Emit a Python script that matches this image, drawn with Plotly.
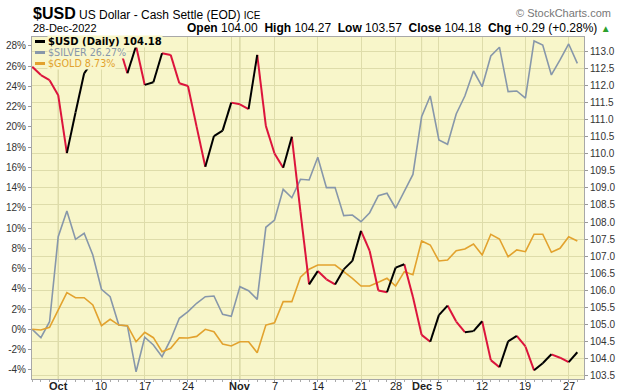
import plotly.graph_objects as go

# ---------------- data ----------------
dates = [
    "2022-09-28", "2022-09-29", "2022-09-30",
    "2022-10-03", "2022-10-04", "2022-10-05", "2022-10-06", "2022-10-07",
    "2022-10-10", "2022-10-11", "2022-10-12", "2022-10-13", "2022-10-14",
    "2022-10-17", "2022-10-18", "2022-10-19", "2022-10-20", "2022-10-21",
    "2022-10-24", "2022-10-25", "2022-10-26", "2022-10-27", "2022-10-28",
    "2022-10-31", "2022-11-01", "2022-11-02", "2022-11-03", "2022-11-04",
    "2022-11-07", "2022-11-08", "2022-11-09", "2022-11-10", "2022-11-11",
    "2022-11-14", "2022-11-15", "2022-11-16", "2022-11-17", "2022-11-18",
    "2022-11-21", "2022-11-22", "2022-11-23", "2022-11-25",
    "2022-11-28", "2022-11-29", "2022-11-30", "2022-12-01", "2022-12-02",
    "2022-12-05", "2022-12-06", "2022-12-07", "2022-12-08", "2022-12-09",
    "2022-12-12", "2022-12-13", "2022-12-14", "2022-12-15", "2022-12-16",
    "2022-12-19", "2022-12-20", "2022-12-21", "2022-12-22", "2022-12-23",
    "2022-12-27", "2022-12-28",
]

usd = [
    112.55, 112.31, 112.16, 111.72, 110.02, 111.21, 112.36, 112.72, 113.05, 113.15,
    113.20, 112.36, 113.16, 112.02, 112.10, 112.95, 112.90, 112.07, 111.99, 110.79,
    109.62, 110.52, 110.68, 111.50, 111.45, 111.31, 112.90, 110.82, 110.01, 109.59,
    110.50, 108.30, 106.17, 106.56, 106.32, 106.17, 106.61, 106.86, 107.74, 107.15,
    105.99, 105.94, 106.66, 106.76, 105.80, 104.69, 104.49, 105.27, 105.55, 105.08,
    104.77, 104.80, 105.09, 103.95, 103.74, 104.50, 104.66, 104.35, 103.65, 103.86,
    104.12, 104.02, 103.89, 104.18,
]

silver_pct = [
    0.00, -0.83, 0.75, 9.15, 11.69, 8.89, 9.49, 7.34, 3.95, 3.22,
    0.42, 0.33, -4.20, -0.78, -1.55, -2.70, -1.00, 1.09, 1.74, 2.57,
    3.22, 3.29, 1.48, 1.28, 4.21, 3.81, 2.96, 10.08, 10.80, 13.83,
    13.00, 14.82, 14.75, 17.00, 14.00, 14.00, 11.23, 11.29, 10.63, 11.52,
    13.20, 13.44, 11.96, 13.60, 15.30, 21.00, 23.05, 18.71, 18.28, 21.27,
    23.05, 25.52, 23.97, 27.00, 27.87, 23.48, 23.55, 22.83, 28.49, 28.09,
    25.13, 26.61, 28.19, 26.27,
]

gold_pct = [
    0.00, -0.07, 0.20, 1.91, 3.62, 3.12, 3.12, 2.40, 0.36, 0.99,
    0.42, 0.36, -1.23, -0.30, -0.83, -2.21, -1.88, -0.83, -0.86, -0.70,
    0.00, -0.24, -1.45, -1.65, -1.23, -1.23, -2.31, 0.42, 0.65, 2.73,
    2.73, 5.14, 5.93, 6.35, 6.35, 6.35, 5.69, 5.04, 4.28, 4.28,
    4.64, 5.04, 4.28, 5.69, 5.40, 8.73, 8.33, 6.75, 6.85, 7.77,
    7.93, 8.43, 7.34, 9.39, 8.92, 7.17, 7.84, 7.67, 9.39, 9.39,
    7.61, 8.00, 9.15, 8.73,
]

tick_dates = ["2022-10-03", "2022-10-10", "2022-10-17", "2022-10-24", "2022-10-31",
              "2022-11-01", "2022-11-07", "2022-11-14", "2022-11-21", "2022-11-28",
              "2022-12-01", "2022-12-05", "2022-12-12", "2022-12-19", "2022-12-27"]
tick_labels = ["<b>Oct</b>", "10", "17", "24", "",
               "<b>Nov</b>", "7", "14", "21", "28",
               "<b>Dec</b>", "5", "12", "19", "27"]
month_starts = ["2022-10-03", "2022-11-01", "2022-12-01"]

left_ticks = [-4, -2, 0, 2, 4, 6, 8, 10, 12, 14, 16, 18, 20, 22, 24, 26, 28]
right_ticks = [103.5, 104.0, 104.5, 105.0, 105.5, 106.0, 106.5, 107.0, 107.5, 108.0,
               108.5, 109.0, 109.5, 110.0, 110.5, 111.0, 111.5, 112.0, 112.5, 113.0]

legend_usd = "$USD (Daily) 104.18"
legend_silver = "$SILVER 26.27%"
legend_gold = "$GOLD 8.73%"

# ---------------- styling ----------------
W, H = 620, 391
L, R, T, B = 32, 584, 37, 379
BG = "#F8F6CA"
GRID = "#DEDCAA"
MONTH_GRID = "#C9C893"
SILVER_C = "#8797AA"
GOLD_C = "#E2A22E"
UP_C = "#000000"
DN_C = "#DC143C"
FONT = "Liberation Sans, Arial, sans-serif"
NARROW = "Liberation Sans Narrow, Arial Narrow, Liberation Sans, sans-serif"
LEG_FONT = "DejaVu Sans, Verdana, sans-serif"


def xp(px):
    return (px - L) / (R - L)


def yp(py):
    return (B - py) / (B - T)


idx = list(range(len(dates)))
pos = {d: i for i, d in enumerate(dates)}

# colour-coded USD segments
up_x, up_y, dn_x, dn_y = [], [], [], []
for k in range(len(usd) - 1):
    if usd[k + 1] > usd[k]:
        up_x += [k, k + 1, None]
        up_y += [usd[k], usd[k + 1], None]
    else:
        dn_x += [k, k + 1, None]
        dn_y += [usd[k], usd[k + 1], None]

fig = go.Figure()
fig.add_trace(go.Scatter(x=idx, y=silver_pct, mode="lines", yaxis="y",
                         line=dict(color=SILVER_C, width=1.6), hoverinfo="skip"))
fig.add_trace(go.Scatter(x=idx, y=gold_pct, mode="lines", yaxis="y",
                         line=dict(color=GOLD_C, width=1.6), hoverinfo="skip"))
fig.add_trace(go.Scatter(x=dn_x, y=dn_y, mode="lines", yaxis="y2",
                         line=dict(color=DN_C, width=2), hoverinfo="skip"))
fig.add_trace(go.Scatter(x=up_x, y=up_y, mode="lines", yaxis="y2",
                         line=dict(color=UP_C, width=2), hoverinfo="skip"))

shapes = []
for d in month_starts:
    shapes.append(dict(type="line", xref="x", yref="paper", x0=pos[d], x1=pos[d],
                       y0=0, y1=1, line=dict(color=MONTH_GRID, width=1), layer="below"))

annotations = []
# x-axis labels (placed at the axis positions of their dates)
for d, lab in zip(tick_dates, tick_labels):
    if lab:
        annotations.append(dict(xref="x", yref="paper", x=pos[d], y=yp(385.5),
                                xanchor="center", yanchor="middle", text=lab,
                                showarrow=False,
                                font=dict(family=FONT, size=11, color="#222")))

# legend rows
leg_rows = [(legend_usd, UP_C, 41.5, True), (legend_silver, SILVER_C, 52.5, False),
            (legend_gold, GOLD_C, 63.5, False)]
for text, col, py, bold in leg_rows:
    shapes.append(dict(type="line", xref="paper", yref="paper", x0=xp(35), x1=xp(45),
                       y0=yp(py), y1=yp(py), line=dict(color=col, width=3), layer="above"))
    annotations.append(dict(xref="paper", yref="paper", x=xp(47), y=yp(py), xanchor="left",
                            yanchor="middle", text=(f"<b>{text}</b>" if bold else text),
                            showarrow=False, bgcolor=BG, borderpad=0,
                            font=dict(family=LEG_FONT, size=10 if bold else 9.6, color=col)))

# header
annotations += [
    dict(xref="paper", yref="paper", x=xp(31), y=yp(13), xanchor="left", yanchor="middle",
         showarrow=False, font=dict(family=NARROW, size=12, color="#000"),
         text="<b><span style='font-family:Liberation Sans, Arial, sans-serif;font-size:16px'>$USD</span></b>"
              " US Dollar - Cash Settle (EOD) <span style='font-size:10px'>ICE</span>"),
    dict(xref="paper", yref="paper", x=xp(613), y=yp(13), xanchor="right", yanchor="middle",
         showarrow=False, font=dict(family=FONT, size=11, color="#777"),
         text="© StockCharts.com"),
    dict(xref="paper", yref="paper", x=xp(31), y=yp(28), xanchor="left", yanchor="middle",
         showarrow=False, font=dict(family=FONT, size=11, color="#000"),
         text="28-Dec-2022"),
    dict(xref="paper", yref="paper", x=xp(613), y=yp(28), xanchor="right", yanchor="middle",
         showarrow=False, font=dict(family=FONT, size=12, color="#000"),
         text="<b>Open</b> 104.00  <b>High</b> 104.27  <b>Low</b> 103.57  <b>Close</b> 104.18  "
              "<b>Chg</b> +0.29 (+0.28%) <span style='color:#2CA02C;font-size:10px'>▲</span>"),
]

x_end = (R - L) / 8.656
fig.update_layout(
    width=W, height=H,
    margin=dict(l=L, r=W - R, t=T, b=H - B, pad=0, autoexpand=False),
    paper_bgcolor="white", plot_bgcolor=BG,
    showlegend=False,
    font=dict(family=FONT, size=10, color="#333"),
    xaxis=dict(range=[-0.03, x_end], tickvals=[pos[d] for d in tick_dates],
               showticklabels=False, showgrid=True, gridcolor=GRID, gridwidth=1,
               zeroline=False, showline=True, linecolor="#A8A8A8", mirror=True,
               ticks="outside", ticklen=2, tickcolor="#999", automargin=False,
               minor=dict(tickmode="linear", tick0=0, dtick=1, ticks="outside",
                          ticklen=2, tickcolor="#AAA", showgrid=False)),
    yaxis=dict(range=[-4.91, 28.88], tickvals=left_ticks, automargin=False,
               ticktext=[f"{v}%" for v in left_ticks], showgrid=False, zeroline=False,
               showline=True, linecolor="#A8A8A8", mirror=True, ticks="outside",
               ticklen=3, tickcolor="#999", tickfont=dict(family=FONT, size=10, color="#333")),
    yaxis2=dict(range=[103.396, 113.425], overlaying="y", side="right", automargin=False,
                tickvals=right_ticks, ticktext=[f"{v:.1f}" for v in right_ticks],
                showgrid=True, gridcolor=GRID, gridwidth=1, zeroline=False,
                ticks="outside", ticklen=3, tickcolor="#999",
                tickfont=dict(family=FONT, size=10, color="#333")),
    shapes=shapes,
    annotations=annotations,
)

fig.write_html("out.html", config={"displayModeBar": False},
               post_script="document.body.style.margin='0';document.body.style.overflow='hidden';")
